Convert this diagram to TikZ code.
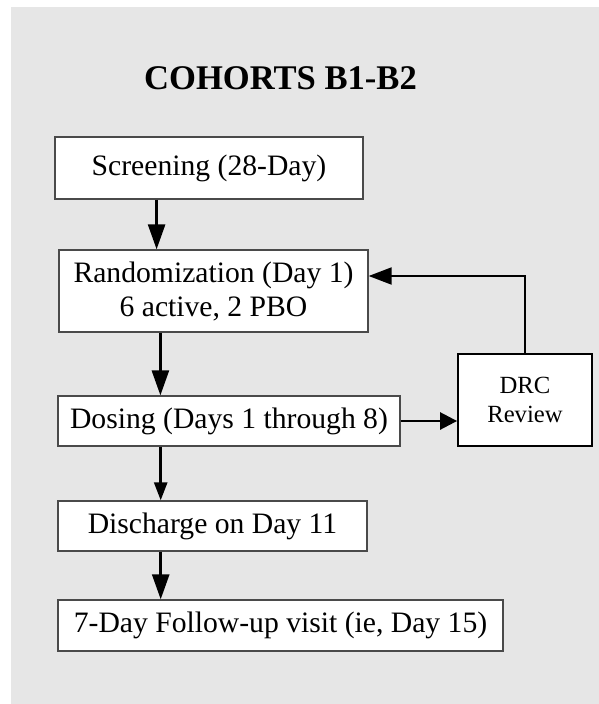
\documentclass[tikz,border=0pt]{standalone}
\usepackage{fontspec}
\setmainfont{Liberation Serif}
\usetikzlibrary{arrows.meta,calc}
\definecolor{panelgray}{HTML}{E6E6E6}
\definecolor{edgegray}{HTML}{4A4A4A}
\begin{document}
\begin{tikzpicture}[x=1pt,y=-1pt,
  box/.style={draw=edgegray,line width=1.3pt,fill=white,rectangle,inner sep=0pt,align=center,
    font=\fontsize{29.65}{34}\selectfont},
  flow/.style={line width=2.6pt,-{Triangle[length=25pt,width=17pt]}},
  flowsmall/.style={line width=2.6pt,-{Triangle[length=18pt,width=13pt]}},
  feedback/.style={line width=2pt,-{Triangle[length=23pt,width=17pt]}},
  side/.style={line width=2.6pt,-{Triangle[length=17pt,width=17pt]}}]
  % page and grey panel
  \useasboundingbox (0,0) rectangle (599,704);
  \fill[white] (0,0) rectangle (599,704);
  \fill[panelgray] (11,7) rectangle (599,704);

  % heading
  \node[anchor=base,inner sep=0pt,font=\fontsize{34.6}{40}\selectfont\bfseries] (title) at (280.5,89) {COHORTS B1-B2};

  % study flow boxes
  \node[box,minimum width=308pt,minimum height=62pt] (screen) at (209,168) {Screening (28-Day)};
  \node[box,minimum width=309pt,minimum height=82pt] (rand) at (213.5,291) {Randomization (Day 1)\\6 active, 2 PBO};
  \node[box,minimum width=342pt,minimum height=50pt] (dose) at (229,421) {Dosing (Days 1 through 8)};
  \node[box,minimum width=309pt,minimum height=50pt] (disc) at (212.5,526) {Discharge on Day 11};
  \node[box,minimum width=445pt,minimum height=51pt] (follow) at (280.5,625.5) {7-Day Follow-up visit (ie, Day 15)};
  \node[box,draw=black,line width=1.8pt,minimum width=134pt,minimum height=92pt,
    font=\fontsize{24.7}{29}\selectfont] (drc) at (525,400) {DRC\\Review};

  % x positions of the vertical connectors, y of the feedback line
  \coordinate (xa) at (156.6,0);
  \coordinate (xb) at (160.4,0);
  \coordinate (xc) at (160.7,0);
  \coordinate (yfb) at (0,276);

  \draw[flow] (screen.south -| xa) -- (rand.north -| xa);
  \draw[flow] (rand.south -| xb) -- (dose.north -| xb);
  \draw[flowsmall] (dose.south -| xc) -- (disc.north -| xc);
  \draw[flow] (disc.south -| xc) -- (follow.north -| xc);

  % DRC loop
  \draw[side] (dose.east) -- (dose.east -| drc.west);
  \draw[feedback] (drc.north) -- (drc.north |- yfb) -- (rand.east |- yfb);
\end{tikzpicture}
\end{document}
